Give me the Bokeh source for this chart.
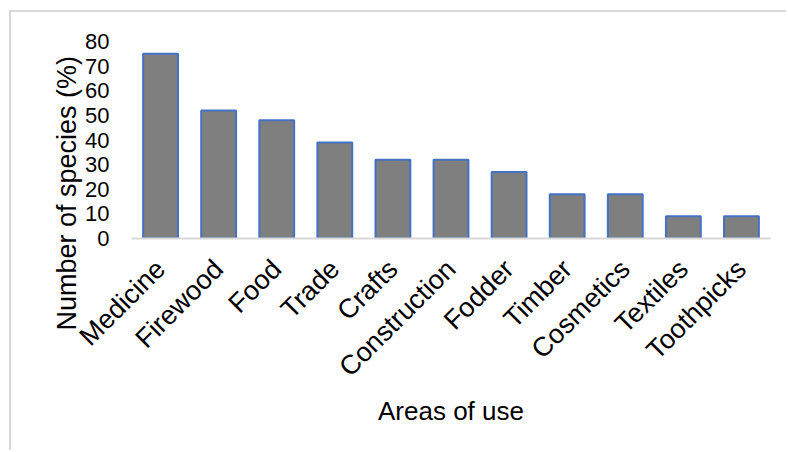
from math import pi
from bokeh.plotting import figure
from bokeh.models import Title, ColumnDataSource
from bokeh.embed import file_html
from bokeh.resources import INLINE

categories = ["Medicine", "Firewood", "Food", "Trade", "Crafts", "Construction",
              "Fodder", "Timber", "Cosmetics", "Textiles", "Toothpicks"]
percent = [75, 52, 48, 39, 32, 32, 27, 18, 18, 9, 9]
y_ticks = [0, 10, 20, 30, 40, 50, 60, 70, 80]
x_title = "Areas of use"
y_title = "Number  of species (%)"

FONT = "Liberation Sans"

p = figure(x_range=categories, y_range=(0, 80), width=777, height=440,
           output_backend="svg", toolbar_location=None,
           min_border_left=120, min_border_right=18,
           min_border_top=29, min_border_bottom=214)
p.margin = (10, 0, 0, 9)
p.styles = {"border-left": "2px solid #d9d9d9", "border-top": "2px solid #d9d9d9"}

src = ColumnDataSource(dict(cat=categories, val=percent))
p.vbar(x="cat", top="val", width=0.6, source=src,
       fill_color="#7f7f7f", line_color="#4472c4", line_width=2)

p.outline_line_color = None
p.xgrid.grid_line_color = None
p.ygrid.grid_line_color = None

p.yaxis.ticker = y_ticks
p.yaxis.axis_line_color = None
p.yaxis.major_tick_line_color = None
p.yaxis.minor_tick_line_color = None
p.yaxis.major_label_text_font = FONT
p.yaxis.major_label_text_font_size = "22px"
p.yaxis.major_label_text_color = "#000000"
p.yaxis.major_label_standoff = 16

p.xaxis.axis_line_color = "#d9d9d9"
p.xaxis.axis_line_width = 2
p.xaxis.major_tick_line_color = None
p.xaxis.minor_tick_line_color = None
p.xaxis.major_label_orientation = pi / 4
p.xaxis.major_label_text_font = FONT
p.xaxis.major_label_text_font_size = "27px"
p.xaxis.major_label_text_color = "#000000"
p.xaxis.major_label_standoff = 20
p.xaxis.axis_label = x_title
p.xaxis.axis_label_text_font = FONT
p.xaxis.axis_label_text_font_size = "26px"
p.xaxis.axis_label_text_font_style = "normal"
p.xaxis.axis_label_text_color = "#000000"
p.xaxis.axis_label_standoff = 0

ytitle = Title(text=y_title, align="left", offset=-92, standoff=2,
               text_font=FONT, text_font_size="27px", text_font_style="normal",
               text_color="#000000")
p.add_layout(ytitle, "left")

open("out.html", "w").write(file_html(p, INLINE))
